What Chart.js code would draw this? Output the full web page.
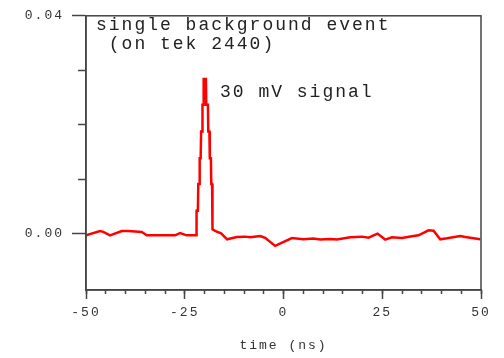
<!DOCTYPE html>
<html>
<head>
<meta charset="utf-8">
<script src="https://cdn.jsdelivr.net/npm/chart.js@4"></script>
<style>
  html, body { margin: 0; padding: 0; background: #fff; }
  #wrap { width: 504px; height: 358px; }
</style>
</head>
<body>
<div id="wrap"><canvas id="scope"></canvas></div>
<script>
// ── DATA ──────────────────────────────────────────────────────
const timeNs = [
  -50.0, -46.45, -45.62, -43.92, -40.96, -39.28, -35.89, -34.62, -27.45, -26.18, -24.49, -22.38,
  -22.13, -22.01, -21.68, -21.57, -21.32, -21.22, -20.97, -20.86, -20.61, -20.51, -20.31, -20.21,
  -19.65, -19.55, -19.14, -19.04, -18.76, -18.66, -18.38, -18.28, -18.08, -17.98,
  -17.06, -15.80, -14.28, -11.82, -9.72, -8.45, -5.91, -4.65, -2.12, 2.12, 5.05, 7.59, 9.29,
  11.82, 13.52, 16.89, 19.85, 21.52, 23.80, 25.75, 27.45, 29.99, 32.52, 34.19, 36.72, 37.99,
  39.69, 41.39, 44.76, 46.02, 49.82
];
const signalV = [
  -0.00027, 0.00051, 0.00036, -0.00027, 0.00051, 0.00051, 0.00033, -0.00027, -0.00027, 0.00015, -0.00027, -0.00027,
  -0.00027, 0.00426, 0.00426, 0.00916, 0.00916, 0.01388, 0.01388, 0.01878, 0.01878, 0.02368, 0.02368, 0.02839,
  0.02839, 0.02368, 0.02368, 0.01878, 0.01878, 0.01388, 0.01388, 0.00916, 0.00916, 0.00082,
  0.00045, 0.00009, -0.00100, -0.00058, -0.00051, -0.00063, -0.00040, -0.00073, -0.00221, -0.00076, -0.00100, -0.00087, -0.00105,
  -0.00094, -0.00105, -0.00063, -0.00051, -0.00069, 0.00004, -0.00105, -0.00063, -0.00076, -0.00045, -0.00027, 0.00064, 0.00058,
  -0.00100, -0.00082, -0.00040, -0.00058, -0.00100
];
const yLabelTicks = [0, 0.04];
const yMinorTicks = [0.01, 0.02, 0.03];
const noteLines  = ['single background event', ' (on tek 2440)'];
const peakNote   = '30 mV signal';
const xTitle     = 'time (ns)';

const INK  = '#333';
const AXIS = '#444';
const MONO = "'Liberation Mono', 'DejaVu Sans Mono', monospace";

// letter spacing to mimic the wide plotter font
const spacing = {
  id: 'spacing',
  beforeLayout(chart) { chart.ctx.letterSpacing = '2px'; },
  beforeDraw(chart)   { chart.ctx.letterSpacing = '2px'; }
};

// box round the plot + the text notes
const frameNotes = {
  id: 'frameNotes',
  afterDraw(chart) {
    const { ctx, chartArea: a } = chart;
    ctx.save();
    ctx.strokeStyle = AXIS;
    ctx.lineWidth = 1.5;
    ctx.strokeRect(a.left, a.top, a.right - a.left, a.bottom - a.top);

    ctx.fillStyle = '#222';
    ctx.font = '18px ' + MONO;
    ctx.letterSpacing = '2px';
    ctx.textBaseline = 'middle';
    ctx.textAlign = 'left';
    noteLines.forEach((t, i) => ctx.fillText(t, a.left + 10, a.top + 9 + i * 19));
    ctx.fillText(peakNote, a.left + 134, a.top + 76);
    ctx.restore();
  }
};

const tickFont = { family: MONO, size: 13 };

new Chart(document.getElementById('scope'), {
  type: 'line',
  data: {
    labels: timeNs,
    datasets: [{
      data: timeNs.map((t, i) => ({ x: t, y: signalV[i] })),
      borderColor: '#ff0000',
      borderWidth: 2.5,
      pointRadius: 0,
      tension: 0,
      fill: false
    }]
  },
  options: {
    responsive: true,
    maintainAspectRatio: false,
    animation: false,
    layout: { padding: { top: 13, right: 23, left: 0, bottom: 0 } },
    plugins: { legend: { display: false }, tooltip: { enabled: false } },
    scales: {
      x: {
        type: 'linear', position: 'bottom', weight: 1,
        min: -50, max: 50,
        ticks: { stepSize: 25, color: INK, font: tickFont, padding: 6, maxRotation: 0 },
        grid: { drawOnChartArea: false, tickLength: 9, tickColor: AXIS, tickWidth: 1.5 },
        border: { color: AXIS, width: 1.5 },
        title: { display: true, text: xTitle, color: INK, font: tickFont, padding: { top: 0, bottom: 5 } },
        afterFit: s => { s.height = 68; }
      },
      xMinor: {
        type: 'linear', position: 'bottom', weight: 0,
        min: -50, max: 50,
        ticks: { stepSize: 5, display: false },
        grid: { drawOnChartArea: false, tickLength: 4, tickColor: AXIS, tickWidth: 1.5 },
        border: { display: false },
        afterFit: s => { s.height = 0; }
      },
      y: {
        position: 'left', weight: 1,
        min: -0.0103, max: 0.04,
        afterBuildTicks: s => { s.ticks = yLabelTicks.map(v => ({ value: v })); },
        ticks: { color: INK, font: tickFont, padding: 8, callback: v => v.toFixed(2) },
        grid: { drawOnChartArea: false, tickLength: 14, tickColor: AXIS, tickWidth: 1.5 },
        border: { color: AXIS, width: 1.5 },
        afterFit: s => { s.width = 86; }
      },
      yMinor: {
        position: 'left', weight: 0,
        min: -0.0103, max: 0.04,
        afterBuildTicks: s => { s.ticks = yMinorTicks.map(v => ({ value: v })); },
        ticks: { display: false },
        grid: { drawOnChartArea: false, tickLength: 8, tickColor: AXIS, tickWidth: 1.5 },
        border: { display: false },
        afterFit: s => { s.width = 0; }
      }
    }
  },
  plugins: [spacing, frameNotes]
});
</script>
</body>
</html>
